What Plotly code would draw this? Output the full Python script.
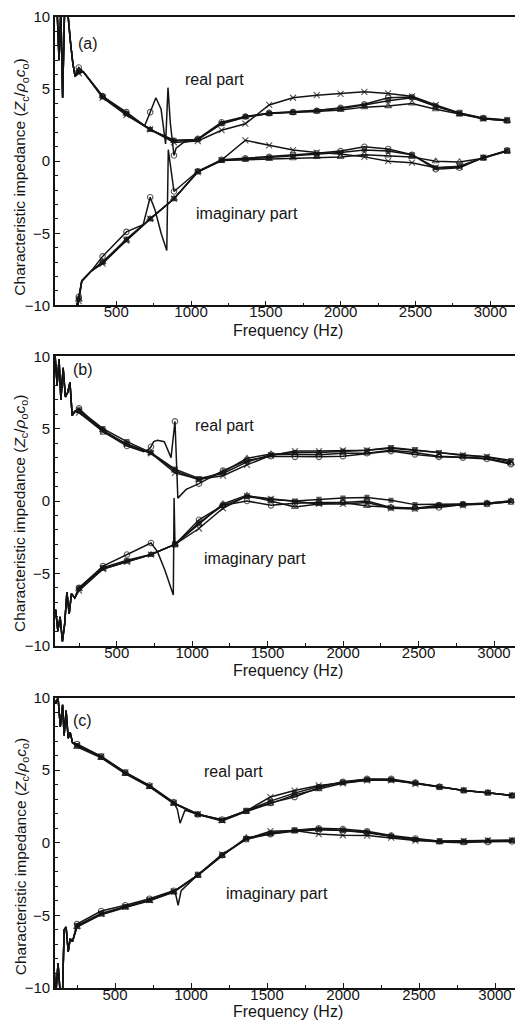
import plotly.graph_objects as go

# ---------------- data ----------------
MK_F = [250, 409, 568, 727, 886, 1045, 1204, 1363, 1522, 1681, 1840, 1999,
        2158, 2317, 2476, 2635, 2794, 2953, 3112]

X_TICKS = [500, 1000, 1500, 2000, 2500, 3000]
Y_TICKS = [-10, -5, 0, 5, 10]

# panel (a)
A_RE_LF_F = [92, 105, 118, 130, 142, 155, 168, 180, 195, 210, 225, 280, 340]
A_RE_LF_V = [10.5, 10.5, 7.0, 10.5, 4.4, 10.5, 10.5, 9.9, 8.2, 6.8, 5.9, 6.2, 5.4]
A_RE_CIRC = [6.5, 4.5, 3.4, 3.4, 0.4, 1.55, 2.7, 3.1, 3.35, 3.4, 3.5, 3.7, 3.95, 4.4, 4.45, 3.8, 3.35, 3.0, 2.85]
A_RE_TRI = [6.3, 4.5, 3.3, 2.2, 1.4, 1.5, 2.6, 3.05, 3.3, 3.35, 3.45, 3.55, 3.75, 3.82, 4.0, 3.6, 3.25, 2.95, 2.8]
A_RE_CROSS = [6.1, 4.4, 3.2, 2.2, 1.3, 1.4, 2.15, 2.6, 3.9, 4.4, 4.58, 4.67, 4.81, 4.7, 4.5, 3.9, 3.35, 2.95, 2.85]
A_RE_SQ = [6.2, 4.5, 3.3, 2.2, 1.45, 1.5, 2.6, 3.1, 3.3, 3.4, 3.5, 3.65, 3.9, 4.2, 4.4, 3.8, 3.3, 2.95, 2.8]
A_RE_RES_F = [690, 765, 800, 830, 846, 862, 900, 950]
A_RE_RES_V = [2.45, 4.4, 3.6, 1.2, 5.1, 2.6, 0.9, 1.3]

A_IM_LF_F = [92, 150, 200, 232, 270, 335]
A_IM_LF_V = [-12, -12, -11.5, -10.2, -8.3, -7.6]
A_IM_CIRC = [-9.4, -6.6, -4.9, -2.5, -2.1, -0.7, 0.1, 0.2, 0.3, 0.42, 0.55, 0.7, 1.0, 0.85, 0.45, -0.55, -0.45, 0.25, 0.75]
A_IM_TRI = [-9.6, -7.0, -5.5, -4.0, -2.6, -0.75, 0.05, 0.1, 0.15, 0.2, 0.3, 0.3, 0.45, 0.4, 0.3, 0.0, -0.05, 0.2, 0.7]
A_IM_CROSS = [-9.7, -7.1, -5.5, -4.0, -2.6, -0.75, 0.08, 1.45, 1.1, 0.77, 0.6, 0.5, 0.3, 0.0, -0.1, -0.45, -0.4, 0.25, 0.72]
A_IM_SQ = [-9.5, -7.0, -5.4, -4.0, -2.6, -0.7, 0.05, 0.15, 0.25, 0.35, 0.45, 0.6, 0.78, 0.7, 0.45, -0.45, -0.35, 0.25, 0.7]
A_IM_RES_F = [680, 760, 800, 838, 848]
A_IM_RES_V = [-4.4, -3.4, -5.0, -6.2, 0.8]

# panel (b)
B_RE_LF_F = [92, 105, 118, 130, 145, 160, 175, 190, 205, 222]
B_RE_LF_V = [10, 8.0, 9.8, 7.0, 9.2, 7.2, 7.5, 8.2, 5.9, 6.2]
B_RE_CIRC = [6.4, 4.8, 3.8, 3.75, 5.5, 1.2, 2.1, 2.8, 3.1, 3.05, 3.05, 3.1, 3.3, 3.45, 3.22, 3.05, 3.0, 2.9, 2.55]
B_RE_TRI = [6.2, 4.9, 3.9, 3.3, 2.1, 1.45, 2.0, 2.95, 3.25, 3.2, 3.2, 3.3, 3.3, 3.5, 3.35, 3.1, 3.05, 2.95, 2.6]
B_RE_CROSS = [6.1, 4.8, 3.95, 3.3, 1.95, 1.5, 1.75, 2.5, 3.15, 3.45, 3.45, 3.5, 3.5, 3.65, 3.5, 3.3, 3.15, 3.05, 2.7]
B_RE_SQ = [6.3, 5.0, 4.1, 3.35, 2.2, 1.55, 1.9, 2.7, 3.2, 3.35, 3.35, 3.45, 3.5, 3.7, 3.55, 3.35, 3.15, 3.05, 2.8]
B_RE_RES_F = [680, 715, 745, 770, 815, 860, 905, 960, 1020]
B_RE_RES_V = [3.4, 3.6, 4.1, 4.2, 4.1, 3.0, 0.2, 0.8, 1.1]

B_IM_LF_F = [95, 110, 125, 140, 155, 170, 185, 200, 222]
B_IM_LF_V = [-7.5, -9.0, -8.0, -9.7, -8.5, -6.3, -7.8, -6.4, -6.7]
B_IM_CIRC = [-6.0, -4.5, -3.7, -2.9, -3.0, -1.3, -0.3, 0.0, -0.3, -0.15, -0.1, -0.1, 0.0, -0.45, -0.5, -0.45, -0.25, -0.2, -0.05]
B_IM_TRI = [-6.1, -4.7, -4.2, -3.7, -3.0, -1.6, -0.2, 0.39, 0.0, -0.41, -0.2, -0.1, -0.35, -0.45, -0.5, -0.3, -0.25, -0.15, 0.0]
B_IM_CROSS = [-6.2, -4.7, -4.2, -3.7, -3.0, -1.9, -0.5, 0.35, 0.15, -0.05, -0.2, -0.2, -0.1, -0.5, -0.55, -0.35, -0.3, -0.2, -0.05]
B_IM_SQ = [-6.0, -4.6, -4.1, -3.7, -3.0, -1.5, -0.3, 0.3, 0.11, 0.0, 0.11, 0.2, 0.25, 0.05, -0.25, -0.25, -0.2, -0.15, 0.0]
B_IM_RES_F = [770, 820, 875, 880]
B_IM_RES_V = [-3.5, -4.8, -6.5, 0.2]

# panel (c)
C_RE_LF_F = [95, 110, 125, 140, 155, 165, 178, 192, 205, 220]
C_RE_LF_V = [10, 9.6, 10, 8.0, 9.5, 7.4, 9.1, 7.2, 7.6, 6.9]
C_RE_CIRC = [6.8, 5.95, 4.85, 3.95, 2.8, 1.95, 1.6, 2.2, 2.75, 3.15, 3.8, 4.2, 4.4, 4.4, 4.15, 3.85, 3.6, 3.45, 3.25]
C_RE_TRI = [6.6, 5.85, 4.75, 3.85, 2.7, 1.95, 1.5, 2.15, 2.7, 3.3, 3.7, 4.1, 4.3, 4.3, 4.1, 3.84, 3.6, 3.45, 3.25]
C_RE_CROSS = [6.75, 5.95, 4.85, 3.9, 2.75, 1.98, 1.55, 2.2, 3.15, 3.6, 3.95, 4.1, 4.3, 4.3, 4.05, 3.84, 3.61, 3.45, 3.26]
C_RE_SQ = [6.7, 5.9, 4.8, 3.88, 2.74, 1.96, 1.55, 2.19, 2.87, 3.42, 3.88, 4.18, 4.36, 4.34, 4.11, 3.84, 3.61, 3.45, 3.26]
C_RE_RES_F = [910, 928, 960]
C_RE_RES_V = [2.3, 1.35, 2.25]

C_IM_LF_F = [95, 110, 125, 140, 155, 165, 178, 192, 205, 220]
C_IM_LF_V = [-8.0, -10.5, -8.3, -10.5, -10.2, -6.0, -5.8, -7.5, -6.6, -6.8]
C_IM_CIRC = [-5.6, -4.7, -4.3, -3.85, -3.3, -2.2, -0.85, 0.25, 0.6, 0.86, 1.0, 0.95, 0.8, 0.5, 0.3, 0.1, 0.05, 0.05, 0.1]
C_IM_TRI = [-5.8, -4.95, -4.45, -4.0, -3.4, -2.25, -0.9, 0.35, 0.6, 0.8, 0.9, 0.85, 0.7, 0.45, 0.2, 0.05, 0.0, 0.1, 0.15]
C_IM_CROSS = [-5.75, -4.9, -4.4, -3.95, -3.35, -2.2, -0.8, 0.25, 0.8, 0.85, 0.6, 0.52, 0.5, 0.35, 0.15, 0.1, 0.12, 0.17, 0.17]
C_IM_SQ = [-5.7, -4.87, -4.41, -3.95, -3.38, -2.23, -0.86, 0.29, 0.67, 0.86, 0.95, 0.86, 0.74, 0.45, 0.22, 0.12, 0.12, 0.17, 0.17]
C_IM_RES_F = [900, 915, 935]
C_IM_RES_V = [-3.6, -4.3, -3.3]

PANELS = [
    dict(tag="(a)",
         parts=[(A_RE_LF_F, A_RE_LF_V, A_RE_CIRC, A_RE_TRI, A_RE_CROSS, A_RE_SQ, A_RE_RES_F, A_RE_RES_V),
                (A_IM_LF_F, A_IM_LF_V, A_IM_CIRC, A_IM_TRI, A_IM_CROSS, A_IM_SQ, A_IM_RES_F, A_IM_RES_V)]),
    dict(tag="(b)",
         parts=[(B_RE_LF_F, B_RE_LF_V, B_RE_CIRC, B_RE_TRI, B_RE_CROSS, B_RE_SQ, B_RE_RES_F, B_RE_RES_V),
                (B_IM_LF_F, B_IM_LF_V, B_IM_CIRC, B_IM_TRI, B_IM_CROSS, B_IM_SQ, B_IM_RES_F, B_IM_RES_V)]),
    dict(tag="(c)",
         parts=[(C_RE_LF_F, C_RE_LF_V, C_RE_CIRC, C_RE_TRI, C_RE_CROSS, C_RE_SQ, C_RE_RES_F, C_RE_RES_V),
                (C_IM_LF_F, C_IM_LF_V, C_IM_CIRC, C_IM_TRI, C_IM_CROSS, C_IM_SQ, C_IM_RES_F, C_IM_RES_V)]),
]

# ---------------- layout geometry ----------------
# the page body has an 8px default margin, so the figure is placed at (8, 8)
OFF = 8
W, H = 523 - OFF, 1029 - OFF
ML, MR, MT = 55 - OFF, 0, 15 - OFF
BOT_PAGE = 988
MB = H - (BOT_PAGE - OFF)
PW, PH = W - ML - MR, H - MT - MB

def py(p):  # page pixel y -> paper fraction
    return (BOT_PAGE - p) / PH

def px(p):  # page pixel x -> paper fraction
    return (p - 55) / PW

Y_DOM = [[py(304), py(15)], [py(645), py(355)], [py(988), py(697)]]
X_DOM = [[0, px(517)], [0, 1], [0, 1]]
X_RNG = [[91, 3178], [91, 3192], [105, 3184]]

FONT = "Liberation Sans, Arial, sans-serif"
INK = "#141414"

SYMS = [("circle-open", 5.5), ("triangle-up-open", 6), ("x-thin-open", 6), ("square", 4)]

fig = go.Figure()

for i, pan in enumerate(PANELS):
    xa = "x" if i == 0 else f"x{i+1}"
    ya = "y" if i == 0 else f"y{i+1}"
    for part in pan["parts"]:
        lf_f, lf_v, circ, tri, cross, sq, res_f, res_v = part
        for k, ser in enumerate([circ, tri, cross, sq]):
            pts = list(zip(lf_f, lf_v, [False] * len(lf_f)))
            pts += list(zip(MK_F, ser, [True] * len(MK_F)))
            if k == 0:
                pts += list(zip(res_f, res_v, [False] * len(res_f)))
            pts.sort(key=lambda t: t[0])
            sym, sz = SYMS[k]
            fig.add_trace(go.Scatter(
                x=[p[0] for p in pts], y=[p[1] for p in pts],
                xaxis=xa, yaxis=ya, mode="lines+markers",
                line=dict(color=INK, width=1.5),
                marker=dict(symbol=sym, color=INK,
                            size=[sz if p[2] else 0 for p in pts],
                            line=dict(color=INK, width=1.1)),
                showlegend=False, hoverinfo="skip"))

layout = dict(
    width=W, height=H, margin=dict(l=ML, r=MR, t=MT, b=MB),
    paper_bgcolor="white", plot_bgcolor="white",
    font=dict(family=FONT, size=15, color=INK),
    showlegend=False,
)
for i in range(3):
    sfx = "" if i == 0 else str(i + 1)
    layout["xaxis" + sfx] = dict(
        domain=X_DOM[i], range=X_RNG[i], anchor="y" + sfx,
        tickvals=X_TICKS, ticks="inside", ticklen=5, tickwidth=1.2, tickcolor=INK,
        minor=dict(dtick=250, tick0=0, ticks="inside", ticklen=3, tickcolor=INK),
        showline=True, linecolor=INK, linewidth=1.8, mirror=True,
        ticklabelstandoff=-8,
        showgrid=False, zeroline=False, tickfont=dict(size=15, family=FONT))
    layout["yaxis" + sfx] = dict(
        domain=Y_DOM[i], range=[-10, 10], anchor="x" + sfx,
        tickvals=Y_TICKS, ticks="inside", ticklen=5, tickwidth=1.2, tickcolor=INK,
        minor=dict(dtick=1, tick0=0, ticks="inside", ticklen=3, tickcolor=INK),
        showline=True, linecolor=INK, linewidth=1.8, mirror=(i == 0),
        ticklabelstandoff=0,
        showgrid=False, zeroline=False, tickfont=dict(size=15, family=FONT))
fig.update_layout(**layout)

YT = "Characteristic impedance (<i>Z</i><sub>c</sub>/<i>ρ</i><sub>o</sub><i>c</i><sub>o</sub>)"
ann = []
def add(text, x, y, size=16, angle=0):
    ann.append(dict(text=text, x=px(x), y=py(y), xref="paper", yref="paper",
                    showarrow=False, textangle=angle, xanchor="center", yanchor="middle",
                    font=dict(size=size, family=FONT, color=INK)))

# panel labels, curve labels, axis titles
add("(a)", 88, 42); add("(b)", 83, 368); add("(c)", 82, 720)
add("real part", 214, 78); add("imaginary part", 247, 212)
add("real part", 224, 424); add("imaginary part", 255, 558)
add("real part", 233, 771); add("imaginary part", 277, 893)
for yc in [176, 513, 857]:
    add(YT, 21, yc, size=15.5, angle=-90)
for yc in [329, 670, 1012]:
    add("Frequency (Hz)", 288, yc, size=16)
fig.update_layout(annotations=ann)

fig.write_html("out.html")
